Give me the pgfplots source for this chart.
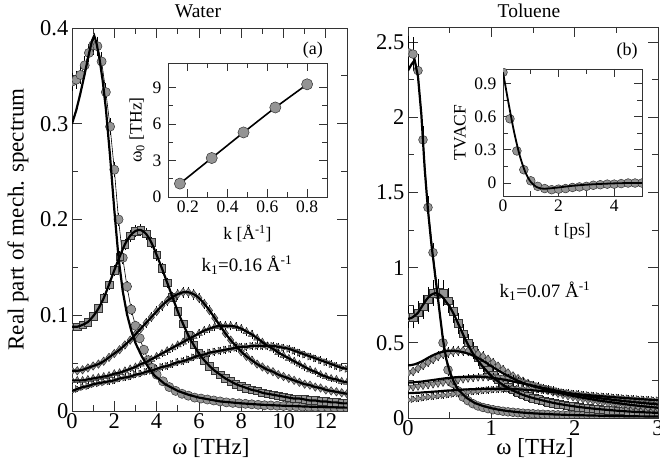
\documentclass[border=0pt]{standalone}
\usepackage{fontspec}
\setmainfont{Liberation Serif}
\usepackage{pgfplots}
\usepackage{pgfplotstable}
\pgfplotsset{compat=1.18}

\newcommand{\bigfont}{\fontsize{23bp}{26bp}\selectfont}
\newcommand{\smallfont}{\fontsize{17.5bp}{19bp}\selectfont}
\newcommand{\titlefont}{\fontsize{19.5bp}{22bp}\selectfont}

\pgfplotsset{
  frame/.style={
    scale only axis, anchor=south west,
    axis line style={black!80, line width=0.8bp},
    every tick/.style={black!80, line width=0.8bp},
    tick align=inside,
    minor x tick num=1, minor y tick num=1,
    major tick length=10bp, minor tick length=6bp,
    clip marker paths=true,
    /pgf/number format/assume math mode=true,
    /pgf/number format/fixed,
    xticklabel={\pgfmathprintnumber{\tick}},
    yticklabel={\pgfmathprintnumber{\tick}},
    ticklabel style={font=\fontsize{22.5bp}{24bp}\selectfont, inner sep=0bp},
    xticklabel style={yshift=-2.5bp},
    yticklabel style={xshift=-3.5bp},
  },
  inset/.style={
    frame,
    axis background/.style={fill=white},
    major tick length=8bp, minor tick length=5bp,
    ticklabel style={font=\fontsize{17.5bp}{19bp}\selectfont, inner sep=0bp},
    xticklabel style={yshift=-1bp},
    yticklabel style={xshift=-3bp},
  },
  dat/.style={black, line width=0.6bp,
    every mark/.append style={fill=black!42, draw=black!80, line width=0.5bp, solid}},
  fit/.style={black, line width=2.2bp, no marks},
  eb/.style={error bars/y dir=both, error bars/y fixed relative=#1,
    error bars/error bar style={line width=0.9bp, black},
    error bars/error mark options={black, line width=0.9bp, mark size=4bp}},
  ebs/.style={error bars/y dir=both, error bars/y fixed relative=#1,
    error bars/error bar style={line width=0.6bp, black},
    error bars/error mark options={black, line width=0.6bp, mark size=2.5bp}},
}

% water, k1: data and fit
\pgfplotstableread{
x y
0.0 0.344
0.2 0.346
0.4 0.351
0.6 0.361
0.8 0.374
1.0 0.382
1.2 0.381
1.4 0.365
1.6 0.333
1.8 0.297
2.0 0.252
2.2 0.200
2.4 0.160
2.6 0.130
2.8 0.106
3.0 0.089
3.2 0.076
3.4 0.064
3.6 0.053
3.8 0.045
4.0 0.038
4.3 0.031
4.6 0.025
4.9 0.021
5.2 0.018
5.5 0.016
5.8 0.014
6.1 0.013
6.4 0.012
6.7 0.011
7.0 0.010
7.3 0.009
7.6 0.0085
7.9 0.008
8.2 0.0075
8.5 0.007
8.8 0.0065
9.1 0.006
9.4 0.0058
9.7 0.0055
10.0 0.0052
10.3 0.005
10.6 0.0048
10.9 0.0046
11.2 0.0044
11.5 0.0042
11.8 0.004
12.1 0.0039
12.4 0.0038
12.7 0.0037
13.0 0.0036
}\wone
\pgfplotstableread{
x y
0.0 0.300
0.2 0.314
0.4 0.332
0.6 0.352
0.8 0.373
0.95 0.387
1.05 0.392
1.15 0.385
1.3 0.368
1.45 0.345
1.6 0.316
1.8 0.266
2.0 0.210
2.2 0.160
2.4 0.125
2.6 0.101
2.8 0.084
3.0 0.071
3.3 0.057
3.6 0.046
3.9 0.037
4.4 0.028
5.0 0.021
5.5 0.017
6.0 0.014
7.0 0.010
8.0 0.008
9.0 0.0065
10.0 0.0055
11.0 0.0047
12.0 0.004
13.0 0.0035
}\wonefit
% water, k2..k5
\pgfplotstableread{
x c2 c3 c4 c5
0.00 0.088 0.042 0.032 0.021
0.25 0.088 0.042 0.032 0.023
0.50 0.090 0.043 0.032 0.025
0.75 0.093 0.045 0.033 0.026
1.00 0.099 0.047 0.034 0.028
1.25 0.107 0.049 0.035 0.029
1.50 0.118 0.052 0.036 0.030
1.75 0.132 0.056 0.037 0.031
2.00 0.147 0.060 0.039 0.032
2.25 0.161 0.064 0.040 0.034
2.50 0.174 0.069 0.042 0.035
2.75 0.183 0.074 0.044 0.036
3.00 0.188 0.080 0.046 0.038
3.25 0.189 0.086 0.049 0.039
3.50 0.185 0.092 0.051 0.041
3.75 0.176 0.098 0.054 0.042
4.00 0.163 0.104 0.057 0.044
4.25 0.149 0.110 0.060 0.046
4.50 0.134 0.115 0.063 0.047
4.75 0.119 0.119 0.066 0.049
5.00 0.104 0.122 0.069 0.051
5.25 0.091 0.124 0.072 0.052
5.50 0.079 0.124 0.075 0.054
5.75 0.069 0.122 0.078 0.056
6.00 0.060 0.118 0.081 0.058
6.25 0.053 0.112 0.084 0.059
6.50 0.047 0.105 0.086 0.061
6.75 0.042 0.097 0.088 0.062
7.00 0.038 0.089 0.089 0.063
7.25 0.034 0.081 0.089 0.064
7.50 0.031 0.074 0.089 0.065
7.75 0.028 0.068 0.088 0.066
8.00 0.026 0.062 0.086 0.067
8.25 0.024 0.057 0.083 0.067
8.50 0.022 0.053 0.080 0.068
8.75 0.021 0.049 0.076 0.068
9.00 0.019 0.046 0.072 0.068
9.25 0.018 0.043 0.068 0.068
9.50 0.017 0.041 0.065 0.068
9.75 0.016 0.038 0.061 0.067
10.00 0.015 0.036 0.058 0.066
10.25 0.014 0.034 0.055 0.065
10.50 0.013 0.032 0.052 0.063
10.75 0.013 0.030 0.049 0.061
11.00 0.012 0.028 0.046 0.059
11.25 0.011 0.027 0.043 0.057
11.50 0.011 0.025 0.041 0.055
11.75 0.010 0.024 0.038 0.053
12.00 0.010 0.022 0.036 0.051
12.25 0.009 0.021 0.034 0.049
12.50 0.009 0.020 0.033 0.047
12.75 0.008 0.019 0.031 0.045
13.00 0.008 0.018 0.030 0.044
}\wrest
% toluene data
\pgfplotstableread{
x c1 c2 c3 c4 c5
0.00 2.43 0.67 0.30 0.200 0.120
0.06 2.42 0.67 0.31 0.205 0.125
0.12 2.31 0.70 0.33 0.210 0.130
0.18 1.85 0.74 0.35 0.215 0.135
0.24 1.40 0.79 0.37 0.220 0.140
0.30 1.10 0.83 0.39 0.225 0.144
0.36 0.82 0.84 0.41 0.230 0.148
0.42 0.50 0.83 0.425 0.236 0.152
0.48 0.32 0.78 0.435 0.242 0.156
0.54 0.23 0.71 0.442 0.248 0.160
0.60 0.18 0.63 0.446 0.254 0.164
0.66 0.14 0.56 0.447 0.259 0.168
0.72 0.115 0.50 0.445 0.264 0.172
0.78 0.095 0.45 0.438 0.268 0.176
0.84 0.080 0.40 0.426 0.271 0.180
0.90 0.070 0.355 0.410 0.273 0.183
0.96 0.062 0.32 0.390 0.274 0.186
1.02 0.055 0.285 0.368 0.274 0.189
1.08 0.050 0.255 0.345 0.272 0.191
1.14 0.045 0.23 0.322 0.268 0.193
1.20 0.041 0.205 0.300 0.263 0.194
1.26 0.038 0.188 0.280 0.256 0.195
1.32 0.035 0.172 0.262 0.248 0.195
1.38 0.032 0.158 0.245 0.239 0.194
1.44 0.030 0.145 0.230 0.230 0.193
1.50 0.028 0.133 0.216 0.221 0.191
1.56 0.026 0.123 0.204 0.212 0.188
1.62 0.025 0.114 0.193 0.203 0.185
1.68 0.023 0.106 0.183 0.195 0.182
1.74 0.022 0.099 0.173 0.187 0.178
1.80 0.021 0.093 0.164 0.179 0.175
1.86 0.020 0.087 0.156 0.172 0.171
1.92 0.019 0.082 0.148 0.165 0.167
1.98 0.018 0.077 0.141 0.158 0.163
2.04 0.017 0.073 0.134 0.152 0.160
2.10 0.016 0.069 0.128 0.146 0.156
2.16 0.0155 0.065 0.122 0.141 0.153
2.22 0.015 0.062 0.116 0.136 0.150
2.28 0.014 0.059 0.111 0.131 0.147
2.34 0.0135 0.056 0.106 0.126 0.144
2.40 0.013 0.053 0.101 0.122 0.141
2.46 0.0125 0.051 0.097 0.118 0.138
2.52 0.012 0.049 0.093 0.114 0.136
2.58 0.0115 0.047 0.089 0.110 0.133
2.64 0.011 0.045 0.085 0.107 0.131
2.70 0.0105 0.043 0.081 0.104 0.128
2.76 0.010 0.041 0.078 0.101 0.126
2.82 0.0098 0.039 0.075 0.098 0.124
2.88 0.0095 0.037 0.072 0.095 0.122
2.94 0.0092 0.036 0.069 0.092 0.120
3.00 0.009 0.034 0.066 0.090 0.118
}\tol
% toluene fits
\pgfplotstableread{
x f1 f2 f3 f4 f5
0.00 2.31 0.66 0.35 0.235 0.165
0.04 2.35 0.665 0.352 0.236 0.166
0.08 2.38 0.68 0.357 0.238 0.167
0.12 2.27 0.70 0.365 0.240 0.168
0.16 2.02 0.735 0.375 0.242 0.169
0.20 1.66 0.77 0.387 0.245 0.171
0.24 1.38 0.80 0.400 0.248 0.172
0.28 1.16 0.82 0.412 0.251 0.174
0.33 0.93 0.83 0.425 0.255 0.176
0.38 0.70 0.82 0.435 0.259 0.178
0.42 0.52 0.80 0.441 0.262 0.180
0.46 0.39 0.77 0.445 0.265 0.182
0.50 0.31 0.74 0.447 0.267 0.183
0.55 0.24 0.69 0.447 0.270 0.185
0.60 0.19 0.63 0.444 0.272 0.187
0.70 0.135 0.51 0.432 0.274 0.190
0.80 0.10 0.41 0.410 0.275 0.192
0.90 0.08 0.34 0.380 0.273 0.194
1.00 0.065 0.28 0.345 0.268 0.195
1.10 0.054 0.235 0.310 0.260 0.195
1.20 0.046 0.20 0.280 0.250 0.194
1.35 0.037 0.16 0.240 0.232 0.190
1.50 0.031 0.133 0.212 0.215 0.184
1.75 0.024 0.10 0.175 0.185 0.172
2.00 0.019 0.077 0.145 0.158 0.160
2.25 0.016 0.061 0.120 0.136 0.148
2.50 0.013 0.049 0.100 0.118 0.137
2.75 0.011 0.040 0.082 0.103 0.127
3.00 0.010 0.034 0.068 0.090 0.118
}\tolfit
% inset (a): omega_0 against k
\pgfplotstableread{
k w
0.16 1.1
0.32 3.2
0.48 5.3
0.64 7.35
0.80 9.25
}\wzero
% inset (b): TVACF
\pgfplotstableread{
t c
0.00 1.00
0.25 0.58
0.50 0.29
0.75 0.12
1.00 0.02
1.25 -0.03
1.50 -0.05
1.75 -0.06
2.00 -0.055
2.25 -0.05
2.50 -0.04
2.75 -0.035
3.00 -0.03
3.25 -0.02
3.50 -0.015
3.75 -0.01
4.00 -0.01
4.25 -0.005
4.50 0.0
4.75 0.0
5.00 0.0
}\tvacf
\pgfplotstableread{
t c
0.0 1.00
0.2 0.72
0.4 0.46
0.6 0.25
0.8 0.10
1.0 0.01
1.2 -0.035
1.4 -0.05
1.6 -0.05
1.8 -0.045
2.0 -0.04
2.5 -0.025
3.0 -0.015
3.5 -0.008
4.0 -0.003
4.5 0.0
5.0 0.0
}\tvacffit

\begin{document}
\begin{tikzpicture}
\path[use as bounding box] (0bp,0bp) rectangle (660bp,468bp);

% ---- water ----
\begin{axis}[frame, at={(72bp,57bp)}, width=275bp, height=383bp,
  xmin=0, xmax=13, ymin=0, ymax=0.4,
  xtick={0,2,...,12}, ytick={0,0.1,0.2,0.3,0.4},
  xlabel={ω  [THz]}, ylabel={Real part of mech. spectrum},
  every axis x label/.style={at={(axis description cs:0.505,-0.096)}, anchor=center, font=\bigfont, inner sep=0pt},
  every axis y label/.style={at={(axis description cs:-0.196,0.5)}, rotate=90, anchor=center, font=\bigfont},
  title={Water},
  title style={at={(axis description cs:0.458,1.029)}, anchor=center, font=\titlefont},
]
\addplot[dat, mark=*, mark size=4.6bp, eb=0.015] table[x=x, y=y] {\wone};
\addplot[dat, mark=square*, mark size=3.8bp, ebs=0.02] table[x=x, y=c2] {\wrest};
\addplot[dat, mark=diamond*, mark size=4.2bp, ebs=0.025] table[x=x, y=c3] {\wrest};
\addplot[dat, mark=triangle*, mark size=4bp, ebs=0.025] table[x=x, y=c4] {\wrest};
\addplot[dat, mark=triangle*, mark size=4bp, every mark/.append style={rotate=-90}, ebs=0.025] table[x=x, y=c5] {\wrest};
\addplot[fit] table[x=x, y=y] {\wonefit};
\addplot[fit, smooth] table[x=x, y=c2] {\wrest};
\addplot[fit, smooth] table[x=x, y=c3] {\wrest};
\addplot[fit, smooth] table[x=x, y=c4] {\wrest};
\addplot[fit, smooth] table[x=x, y=c5] {\wrest};
\node[font=\fontsize{18bp}{20bp}\selectfont] at (axis description cs:0.876,0.943) {(a)};
\node[font=\fontsize{19bp}{21bp}\selectfont] at (axis description cs:0.636,0.381) {k\textsubscript{1}=0.16 Å\textsuperscript{-1}};
\end{axis}

\begin{axis}[inset, at={(168bp,271bp)}, width=159bp, height=134bp,
  xmin=0.1, xmax=0.9, ymin=0, ymax=11,
  xtick={0.2,0.4,0.6,0.8}, ytick={0,3,6,9},
  xlabel={k  [Å\textsuperscript{-1}]}, ylabel={ω\textsubscript{0} [THz]},
  every axis x label/.style={at={(axis description cs:0.5,-0.275)}, anchor=center, font=\smallfont, inner sep=0pt},
  every axis y label/.style={at={(axis description cs:-0.195,0.5)}, rotate=90, anchor=center, font=\smallfont, inner sep=0pt},
]
\addplot[fit, line width=1.6bp] table[x=k, y=w] {\wzero};
\addplot[dat, only marks, mark=*, mark size=5.6bp] table[x=k, y=w] {\wzero};
\end{axis}

% ---- toluene ----
\begin{axis}[frame, at={(408bp,50bp)}, width=250bp, height=391bp,
  xmin=0, xmax=3, ymin=0, ymax=2.6,
  xtick={0,1,2,3}, ytick={0,0.5,...,2.5},
  xlabel={ω  [THz]},
  every axis x label/.style={at={(axis description cs:0.508,-0.076)}, anchor=center, font=\bigfont, inner sep=0pt},
  title={Toluene},
  title style={at={(axis description cs:0.484,1.026)}, anchor=center, font=\titlefont},
]
\addplot[dat, mark=*, mark size=4.4bp, eb=0.035] table[x=x, y=c1] {\tol};
\addplot[dat, mark=square*, mark size=3.8bp, eb=0.07] table[x=x, y=c2] {\tol};
\addplot[dat, mark=diamond*, mark size=4.2bp, ebs=0.04] table[x=x, y=c3] {\tol};
\addplot[dat, mark=triangle*, mark size=4bp, every mark/.append style={rotate=180}, ebs=0.04] table[x=x, y=c4] {\tol};
\addplot[dat, mark=triangle*, mark size=4bp, every mark/.append style={rotate=-90}, ebs=0.04] table[x=x, y=c5] {\tol};
\addplot[fit] table[x=x, y=f1] {\tolfit};
\addplot[fit, smooth] table[x=x, y=f2] {\tolfit};
\addplot[fit, smooth] table[x=x, y=f3] {\tolfit};
\addplot[fit, smooth] table[x=x, y=f4] {\tolfit};
\addplot[fit, smooth] table[x=x, y=f5] {\tolfit};
\node[font=\fontsize{18bp}{20bp}\selectfont] at (axis description cs:0.876,0.939) {(b)};
\node[font=\fontsize{19bp}{21bp}\selectfont] at (axis description cs:0.548,0.325) {k\textsubscript{1}=0.07 Å\textsuperscript{-1}};
\end{axis}

\begin{axis}[inset, at={(503bp,272bp)}, width=139bp, height=127bp,
  xmin=0, xmax=5, ymin=-0.117, ymax=1.03,
  xtick={0,2,4}, ytick={0,0.3,0.6,0.9},
  xlabel={t  [ps]}, ylabel={TVACF},
  every axis x label/.style={at={(axis description cs:0.5,-0.275)}, anchor=center, font=\smallfont, inner sep=0pt},
  every axis y label/.style={at={(axis description cs:-0.309,0.5)}, rotate=90, anchor=center, font=\smallfont, inner sep=0pt},
]
\addplot[dat, only marks, mark=*, mark size=4.4bp] table[x=t, y=c] {\tvacf};
\addplot[fit, smooth, line width=1.8bp] table[x=t, y=c] {\tvacffit};
\end{axis}
\end{tikzpicture}
\end{document}
